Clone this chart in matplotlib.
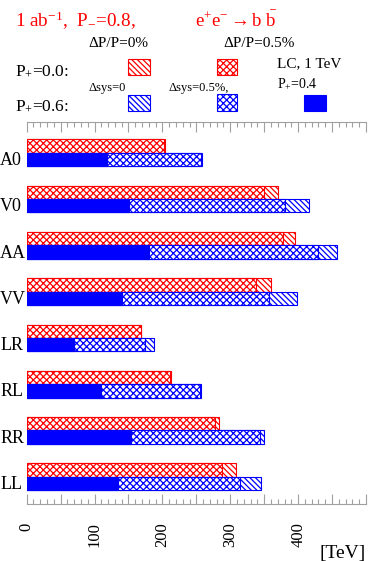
import numpy as np
import matplotlib
matplotlib.use('Agg')
import matplotlib.pyplot as plt
from matplotlib.patches import Rectangle

matplotlib.rcParams.update({'font.family': 'Liberation Serif',
                            'mathtext.fontset': 'custom',
                            'mathtext.rm': 'Liberation Serif',
                            'mathtext.it': 'Liberation Serif:italic',
                            'hatch.linewidth': 0.9})

#Data [TeV]
models = ['A0', 'V0', 'AA', 'VV', 'LR', 'RL', 'RR', 'LL']
# P+=0.0, dP/P=0% and 0.5%
red_dp0 = [204, 370, 395, 360, 169, 212, 283, 308]
red_dp05 = [203, 350, 378, 338, 168, 211, 278, 288]
# P+=0.6, dsys=0 and 0.5%
blue_sys0 = [258, 416, 458, 398, 187, 257, 349, 345]
blue_sys05 = [257, 380, 430, 357, 175, 256, 344, 314]
# P+=0.4
blue_p04 = [118, 151, 180, 141, 69, 110, 153, 134]

W, H = 369, 561
red = '#ff0000'
blue = '#0000ff'
grey = '#a0a0a0'
diag = '\\' * 6
cross = 'x' * 5

def fx(x):
    return x / W

def fy(y):
    return 1 - y / H

fig = plt.figure(figsize=(W / 100, H / 100), dpi=100)
ax = fig.add_axes([fx(26.7), fy(504.3), fx(366) - fx(26.7), fy(122.3) - fy(504.3)])

pos = np.arange(len(models))
h = 0.29
y_red = pos + 0.512
y_blue = pos + 0.80

ax.barh(y_red, red_dp0, h, color='white', edgecolor=red, hatch=diag, linewidth=0.8)
ax.barh(y_red, red_dp05, h, color='white', edgecolor=red, hatch=cross, linewidth=0.8)
ax.barh(y_blue, blue_sys0, h, color='white', edgecolor=blue, hatch=diag, linewidth=0.8)
ax.barh(y_blue, blue_sys05, h, color='white', edgecolor=blue, hatch=cross, linewidth=0.8)
ax.barh(y_blue, blue_p04, h, color=blue, edgecolor=blue, linewidth=0.8)

ax.set_xlim(0, 500)
ax.set_ylim(8.25, 0)
for s in ['left', 'right']:
    ax.spines[s].set_visible(False)
for s in ['top', 'bottom']:
    ax.spines[s].set_color(grey)
    ax.spines[s].set_linewidth(0.8)

ax.set_xticks(np.arange(0, 501, 50))
ax.set_xticks(np.arange(0, 501, 10), minor=True)
ax.set_xticklabels([str(v) if v % 100 == 0 and v < 500 else '' for v in range(0, 501, 50)],
                   rotation=90, fontsize=12)
ax.tick_params(axis='x', which='both', direction='in', top=True, bottom=True, color=grey, width=0.8)
ax.tick_params(axis='x', which='major', length=7.2, pad=13)
ax.tick_params(axis='x', which='minor', length=3.6)

ax.set_yticks(pos + 0.78)
ax.set_yticklabels(models, fontsize=13, ha='left')
ax.tick_params(axis='y', length=0, pad=19.2)

fig.text(fx(366), fy(558), '[TeV]', fontsize=14, ha='right', va='baseline')

#Header
fig.text(fx(15), fy(26.7), r'1 ab$^{-1}$,  P$_{-}$=0.8,', color=red, fontsize=13.8, va='baseline')
fig.text(fx(195), fy(26.7), r'e$^{+}$e$^{-}$$\rightarrow$b $\bar{\mathrm{b}}$', color=red, fontsize=13.5, va='baseline')
fig.text(fx(88.3), fy(46.7), 'ΔP/P=0%', fontsize=11, va='baseline')
fig.text(fx(223), fy(46.7), 'ΔP/P=0.5%', fontsize=11, va='baseline')
fig.text(fx(15), fy(75), r'P$_{+}$=0.0:', fontsize=12.5, va='baseline')
fig.text(fx(15), fy(110), r'P$_{+}$=0.6:', fontsize=12.5, va='baseline')
fig.text(fx(88.3), fy(91), 'Δsys=0', fontsize=9, va='baseline')
fig.text(fx(168.3), fy(91), 'Δsys=0.5%,', fontsize=9, va='baseline')
fig.text(fx(277.3), fy(66.7), 'LC, 1 TeV', fontsize=11, va='baseline')
fig.text(fx(277.3), fy(87.3), r'P$_{+}$=0.4', fontsize=10, va='baseline')

#Legend boxes
def box(x0, y0, x1, y1, col, hatch=None, face='white'):
    r = Rectangle((fx(x0), fy(y1)), fx(x1) - fx(x0), fy(y0) - fy(y1), transform=fig.transFigure,
                  facecolor=face, edgecolor=col, hatch=hatch, linewidth=0.8)
    fig.add_artist(r)

box(128.3, 59.3, 150, 75, red, diag)
box(216.7, 59.3, 237.3, 75, red, cross)
box(128.3, 95, 150, 111, blue, diag)
box(216.7, 94.3, 237.3, 111, blue, cross)
box(304, 95, 325.7, 111, blue, None, blue)

plt.savefig('out.png', dpi=100)
